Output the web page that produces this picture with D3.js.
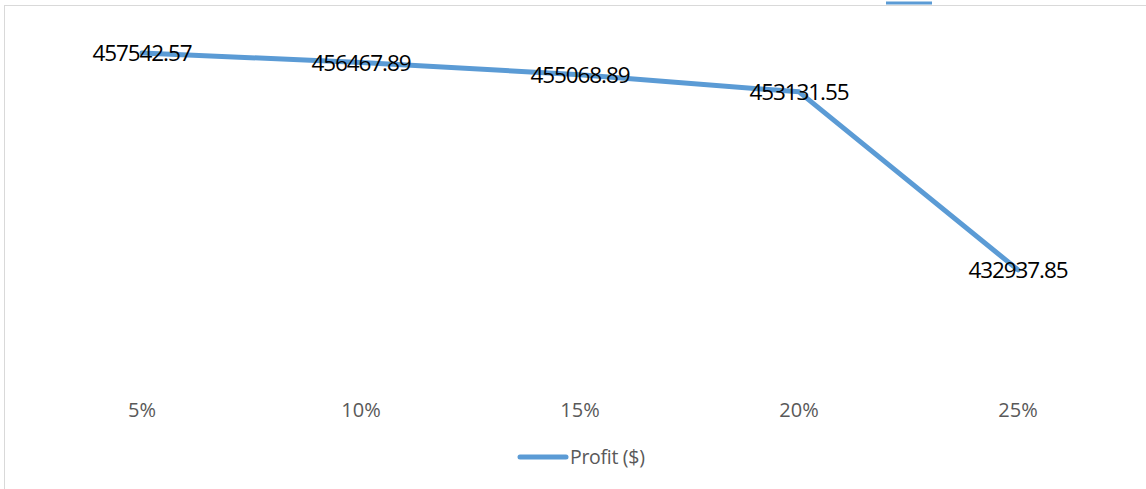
<!DOCTYPE html>
<html><head><meta charset="utf-8">
<script src="https://cdn.jsdelivr.net/npm/d3@7"></script>
<style>html,body{margin:0;padding:0;background:#fff;overflow:hidden}</style>
</head><body>
<script>
const categories = ["5%", "10%", "15%", "20%", "25%"];
const profit = [457542.57, 456467.89, 455068.89, 453131.55, 432937.85];
const seriesName = "Profit ($)";

const W = 1146, H = 489;
const svg = d3.select("body").append("svg").attr("width", W).attr("height", H);
const font = "'Open Sans', 'Noto Sans', sans-serif";

svg.append("rect").attr("x", 4.5).attr("y", 5.5).attr("width", 1300).attr("height", 700)
  .attr("fill", "#fff").attr("stroke", "#d9d9d9").attr("stroke-width", 1);

// clipped legend artifact at top
svg.append("line").attr("x1", 886).attr("x2", 932).attr("y1", 3).attr("y2", 3)
  .attr("stroke", "#5B9BD5").attr("stroke-width", 3);

const x = d3.scaleBand().domain(categories).range([32.5, 1127.5]);
const y = d3.scaleLinear().domain([420000, 460000]).range([384, 31.3]);

const xAxis = svg.append("g").attr("transform", "translate(0,402.5)")
  .call(d3.axisBottom(x).tickSize(0).tickPadding(0));
xAxis.select(".domain").remove();
xAxis.selectAll("text").attr("fill", "#595959").attr("font-size", 20)
  .attr("font-family", font).attr("dy", "0.72em");

const data = categories.map((c, i) => ({c, v: profit[i]}));
const line = d3.line().x(d => x(d.c) + x.bandwidth() / 2).y(d => y(d.v));
svg.append("path").datum(data).attr("d", line).attr("fill", "none")
  .attr("stroke", "#5B9BD5").attr("stroke-width", 5).attr("stroke-linejoin", "round")
  .attr("stroke-linecap", "round");

svg.selectAll(".lbl").data(data).enter().append("text")
  .attr("x", d => x(d.c) + x.bandwidth() / 2)
  .attr("y", d => y(d.v))
  .attr("dy", "0.36em")
  .attr("text-anchor", "middle")
  .attr("font-family", font).attr("font-size", 22.5).attr("letter-spacing", -1.1)
  .attr("fill", "#000")
  .text(d => d.v.toFixed(2));

const lg = svg.append("g").attr("transform", "translate(520,457)");
lg.append("line").attr("x1", 0).attr("x2", 46).attr("y1", 0).attr("y2", 0)
  .attr("stroke", "#5B9BD5").attr("stroke-width", 5).attr("stroke-linecap", "round");
lg.append("text").attr("x", 50).attr("y", 0).attr("dy", "0.35em")
  .attr("font-family", font).attr("font-size", 19.5).attr("fill", "#595959")
  .attr("letter-spacing", -0.3).text(seriesName);
</script>
</body></html>
